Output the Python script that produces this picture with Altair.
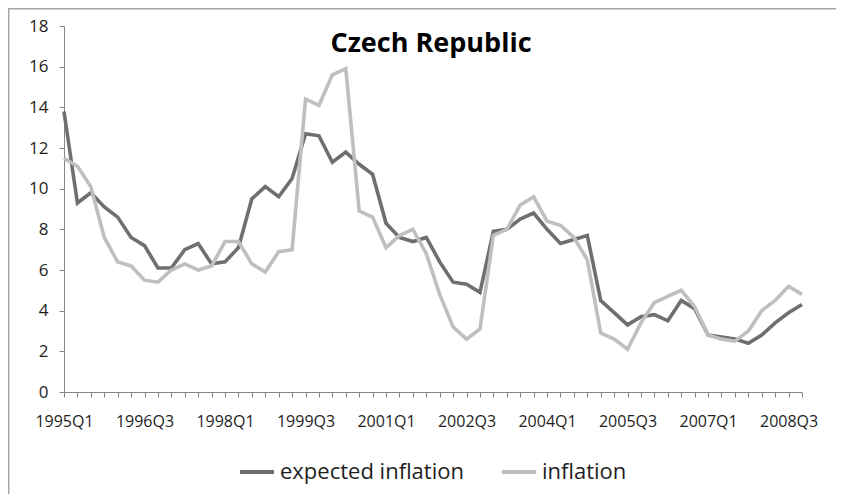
import altair as alt
import pandas as pd

quarters = [f"{y}Q{q}" for y in range(1995, 2009) for q in range(1, 5)]

expected_inflation = [
    13.8, 9.3, 9.8, 9.1, 8.6, 7.6, 7.2, 6.1, 6.1, 7.0,
    7.3, 6.3, 6.4, 7.1, 9.5, 10.1, 9.6, 10.5, 12.7, 12.6,
    11.3, 11.8, 11.2, 10.7, 8.3, 7.6, 7.4, 7.6, 6.4, 5.4,
    5.3, 4.9, 7.9, 8.0, 8.5, 8.8, 8.0, 7.3, 7.5, 7.7,
    4.5, 3.9, 3.3, 3.7, 3.8, 3.5, 4.5, 4.1, 2.8, 2.7,
    2.6, 2.4, 2.8, 3.4, 3.9, 4.3,
]
inflation = [
    11.5, 11.1, 10.1, 7.6, 6.4, 6.2, 5.5, 5.4, 6.0, 6.3,
    6.0, 6.2, 7.4, 7.4, 6.3, 5.9, 6.9, 7.0, 14.4, 14.1,
    15.6, 15.9, 8.9, 8.6, 7.1, 7.7, 8.0, 6.8, 4.8, 3.2,
    2.6, 3.1, 7.7, 8.0, 9.2, 9.6, 8.4, 8.2, 7.6, 6.5,
    2.9, 2.6, 2.1, 3.4, 4.4, 4.7, 5.0, 4.2, 2.8, 2.6,
    2.5, 3.0, 4.0, 4.5, 5.2, 4.8,
]
series_names = ["expected inflation", "inflation"]
series_colors = ["#6f6f6f", "#bfbfbf"]
y_ticks = list(range(0, 19, 2))
title_text = "Czech Republic"

n = len(quarters)
df = pd.DataFrame({
    "quarter": quarters * 2,
    "value": expected_inflation + inflation,
    "series": [series_names[0]] * n + [series_names[1]] * n,
})

W, H = 738, 366
AXIS_GRAY = "#868686"
TEXT = "#1e1e1e"
FONT = "Open Sans"

label_expr = (
    "((toNumber(slice(datum.value,0,4))-1995)*4 + "
    "toNumber(slice(datum.value,5,6))-1) % 6 == 0 ? datum.value : ''"
)

lines = alt.Chart(df).mark_line(strokeWidth=3.6).encode(
    x=alt.X(
        "quarter:O",
        sort=quarters,
        scale=alt.Scale(type="point", padding=0),
        axis=alt.Axis(
            title=None, labelExpr=label_expr, labelOverlap=False, labelAngle=0,
            labelFont=FONT, labelFontSize=16, labelColor=TEXT, labelPadding=16,
            tickSize=5, tickColor=AXIS_GRAY, domainColor=AXIS_GRAY, grid=False,
        ),
    ),
    y=alt.Y(
        "value:Q",
        scale=alt.Scale(domain=[0, 18], nice=False, zero=True),
        axis=alt.Axis(
            title=None, values=y_ticks, labelFont=FONT, labelFontSize=17,
            labelColor=TEXT, labelPadding=11, tickSize=5, tickColor=AXIS_GRAY,
            domainColor=AXIS_GRAY, grid=False,
        ),
    ),
    color=alt.Color(
        "series:N",
        scale=alt.Scale(domain=series_names, range=series_colors),
        legend=alt.Legend(
            title=None, orient="none", legendX=174, legendY=427,
            direction="horizontal", symbolType="stroke", symbolSize=1156,
            symbolStrokeWidth=4, labelFont=FONT, labelFontSize=22,
            labelColor=TEXT, labelOffset=4, columnPadding=30, padding=0,
            labelLimit=400,
        ),
    ),
)

title = alt.Chart(pd.DataFrame({"t": [title_text]})).mark_text(
    font=FONT, fontSize=27, fontWeight="bold", color="#000000",
    align="center", baseline="middle",
).encode(text="t:N", x=alt.value(367), y=alt.value(18))

frame = pd.DataFrame({"k": [0]})
top_border = alt.Chart(frame).mark_rect(color="#a6a6a6").encode(
    x=alt.value(-56), x2=alt.value(W + 34),
    y=alt.value(-18), y2=alt.value(-16.5),
)
left_border = alt.Chart(frame).mark_rule(color="#a6a6a6", strokeWidth=1.5).encode(
    x=alt.value(-55.3), y=alt.value(-17.5), y2=alt.value(H + 102)
)

chart = alt.layer(lines, title, top_border, left_border).properties(
    width=W, height=H,
    autosize=alt.AutoSizeParams(type="none"),
    padding={"left": 56, "top": 18, "right": 34, "bottom": 102},
).configure_view(strokeWidth=0)

chart.save("out.html", embed_options={"renderer": "svg", "actions": False})
